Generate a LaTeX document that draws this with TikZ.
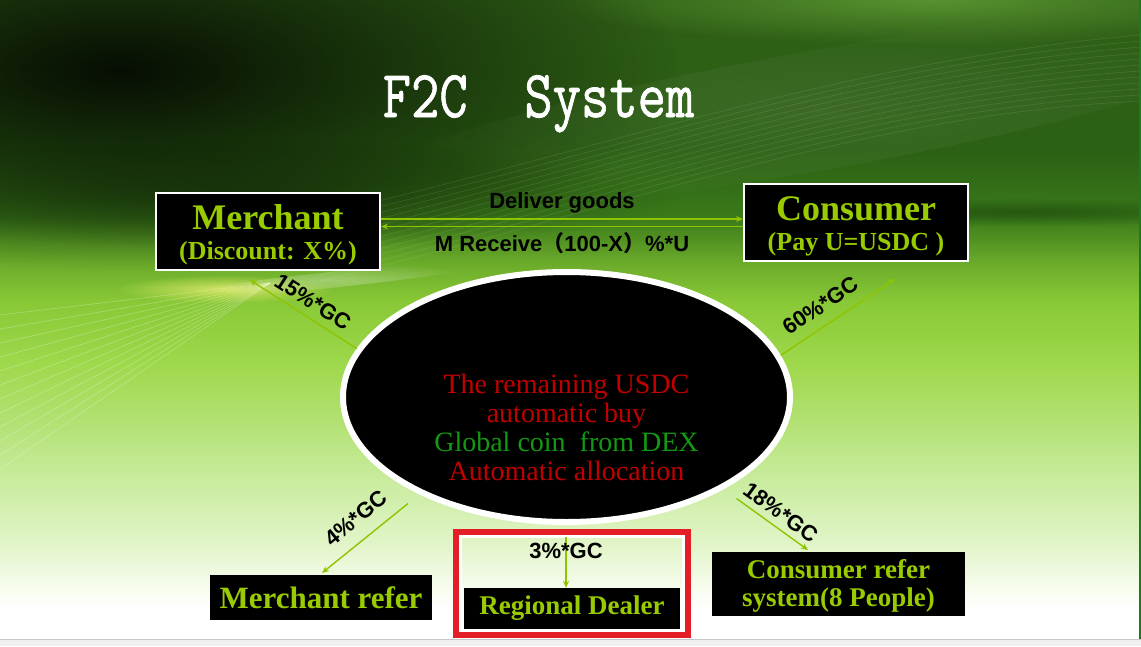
\documentclass[tikz,border=0pt]{standalone}
\usepackage{fontspec}
\setmainfont{Liberation Serif}
\newfontfamily\sansf{Liberation Sans}
\newfontface\titlef{Latin Modern Mono}[FakeBold=1.2]
\newfontfamily\cjkf{Noto Sans CJK SC}
\usetikzlibrary{shapes.geometric,arrows.meta,fadings}
\newcommand\setfs[2]{\fontsize{#1}{#2}\selectfont}

\definecolor{limet}{HTML}{99CC00}
\definecolor{arrowc}{HTML}{8EC400}
\definecolor{redt}{HTML}{C00000}
\definecolor{greent}{HTML}{139A13}
\definecolor{redf}{HTML}{E41E26}
\definecolor{bgA}{HTML}{F6FCEC}
\definecolor{bgB}{HTML}{E0F4C6}
\definecolor{bgC}{HTML}{C9EC9E}
\definecolor{bgD}{HTML}{B2E172}
\definecolor{bgE}{HTML}{9DD84A}
\definecolor{bgF}{HTML}{88C836}
\definecolor{bgF2}{HTML}{6AAA2A}
\definecolor{bgG}{HTML}{3A7A1A}
\definecolor{bgH}{HTML}{2C6014}
\definecolor{bgI}{HTML}{2E5E16}
\definecolor{edgeg}{HTML}{1E7A1E}
\definecolor{toplight}{HTML}{6AA83A}
\definecolor{darkband}{HTML}{163C08}

% y pixel -> bp: 75 - 50*y/639
\pgfdeclareverticalshading{slidebg}{100bp}{color(0bp)=(white); color(27.3bp)=(white); color(29.2bp)=(bgA); color(32.7bp)=(bgB); color(37.4bp)=(bgC); color(42.1bp)=(bgD); color(46.8bp)=(bgE); color(51.5bp)=(bgF); color(54.5bp)=(bgF2); color(58bp)=(bgG); color(63.3bp)=(bgH); color(75bp)=(bgI); color(100bp)=(bgI)}
\tikzfading[name=softglow, inner color=transparent!0, outer color=transparent!100]

\begin{document}
\begin{tikzpicture}[x=1pt,y=-1pt,
  box/.style={draw=white, line width=2.2pt, fill=black, text=limet, inner sep=0pt, align=center,
              minimum width=223.8pt, minimum height=76.8pt, font=\bfseries\setfs{26}{30}},
  plainbox/.style={fill=black, text=limet, inner sep=0pt, align=center, font=\bfseries},
  core/.style={ellipse, draw=white, line width=6pt, fill=black, inner sep=0pt,
               minimum width=447pt, minimum height=250pt},
  coretxt/.style={align=center, inner sep=0pt, font=\setfs{28}{29}},
  flow/.style={draw=arrowc, line width=1.4pt, -{Stealth[length=7pt,width=6pt]}},
  lbl/.style={font=\sansf\bfseries\setfs{22}{24}, text=black, inner sep=1pt},
  titlestyle/.style={text=white, inner sep=0pt, font=\titlef\setfs{55}{60}},
  framebox/.style={draw=redf, line width=6pt, outer sep=0pt, inner sep=0pt,
                   minimum width=232pt, minimum height=103pt}
]
\useasboundingbox (0,0) rectangle (1141,646);

% ---------- background ----------
\shade[shading=slidebg] (0,0) rectangle (1141,639);
\fill[toplight, path fading=softglow, fill opacity=0.7] (930,0) ellipse [x radius=380pt, y radius=45pt];
\fill[black, path fading=softglow, fill opacity=0.85] (120,70) ellipse [x radius=560pt, y radius=200pt];
\fill[black, path fading=softglow, fill opacity=0.35] (260,195) ellipse [x radius=420pt, y radius=55pt];
\fill[darkband, path fading=softglow, fill opacity=0.55] (1020,212) ellipse [x radius=260pt, y radius=14pt];
\fill[white, path fading=softglow, fill opacity=0.07, rotate around={10:(820,110)}] (820,110) ellipse [x radius=480pt, y radius=60pt];
\foreach \i in {0,...,11}
  \draw[white, opacity=0.09, line width=0.8pt] (320,215+6*\i) .. controls (600,150+6*\i) and (850,60+5*\i) .. (1141,35+6*\i);
\foreach \i in {0,...,11}
  \draw[white, opacity=0.25, line width=0.7pt] (0,315+14*\i) -- (270,283);
\fill[yellow!50!white, path fading=softglow, fill opacity=0.65] (225,289) ellipse [x radius=110pt, y radius=14pt];
\fill[white, path fading=softglow, fill opacity=0.3, rotate around={6:(330,280)}] (330,280) ellipse [x radius=160pt, y radius=8pt];
\fill[gray!12] (0,639) rectangle (1141,646);
\draw[gray!45, line width=1pt] (0,639.5) -- (1141,639.5);
\draw[edgeg, line width=1.5pt] (1140,0) -- (1140,639);

% ---------- title ----------
\node[titlestyle, anchor=base] (title) at (538.5,117) {\scalebox{1}[1.22]{F2C\ \ System}};

% ---------- boxes ----------
\node[box] (merchant) at (268,231.5) {{\setfs{36}{36}\rule{0pt}{32pt}Merchant}\\(Discount: X\%)};
\node[box] (consumer) at (856,222.5) {{\setfs{36}{36}\rule{0pt}{32pt}Consumer}\\(Pay U=USDC )};

\node[core] (core) at (566.5,397) {};
\node[coretxt] (coretext) at (566.5,427) {\textcolor{redt}{The remaining USDC}\\
  \textcolor{redt}{automatic buy}\\
  \textcolor{greent}{Global coin\ \ from DEX}\\
  \textcolor{redt}{Automatic allocation}};

\node[framebox] (frame) at (572,583.5) {};
\draw[white, line width=3pt] ([shift={(4.5pt,-4.5pt)}]frame.north west) rectangle ([shift={(-4.5pt,4.5pt)}]frame.south east);

\node[plainbox, minimum width=222pt, minimum height=45pt, font=\bfseries\setfs{31}{34}] (mrefer) at (321,597.5) {Merchant refer};
\node[plainbox, minimum width=216pt, minimum height=41pt, font=\bfseries\setfs{27}{30}] (regional) at (572,608.5) {Regional Dealer};
\node[plainbox, minimum width=253pt, minimum height=64pt, font=\bfseries\setfs{27}{28}] (crefer) at (838.5,584) {\rule{0pt}{23pt}Consumer refer\\system(8 People)};

% ---------- connectors ----------
\draw[flow] ([yshift=12.5pt]merchant.east) -- node[lbl, above=4pt] {Deliver goods} ([yshift=3.5pt]consumer.west);
\draw[flow] ([yshift=-4pt]consumer.west) -- node[lbl, below=4pt] {M Receive{\cjkf （}100-X{\cjkf ）}\%*U} ([yshift=5pt]merchant.east);

\coordinate (t15) at (250,280);
\coordinate (t60) at (895,279);
\coordinate (s4) at (408,503.5);
\coordinate (t4) at (322,573);
\coordinate (s18) at (736.5,498.5);
\coordinate (t18) at (808,550);
\coordinate (s3) at (566,537);

\draw[flow] (core.167.4) -- node[lbl, sloped, above=6pt, pos=0.49] {15\%*GC} (t15);
\draw[flow] (core.11.8) -- node[lbl, sloped, above=10pt, pos=0.44] {60\%*GC} (t60);
\draw[flow] (s4) -- node[lbl, sloped, above=12pt, pos=0.45] {4\%*GC} (t4);
\draw[flow] (s18) -- node[lbl, sloped, above=5pt, pos=0.5] {18\%*GC} (t18);
\draw[flow] (s3) -- node[lbl, pos=0.27] {3\%*GC} (s3 |- regional.north);
\end{tikzpicture}
\end{document}
